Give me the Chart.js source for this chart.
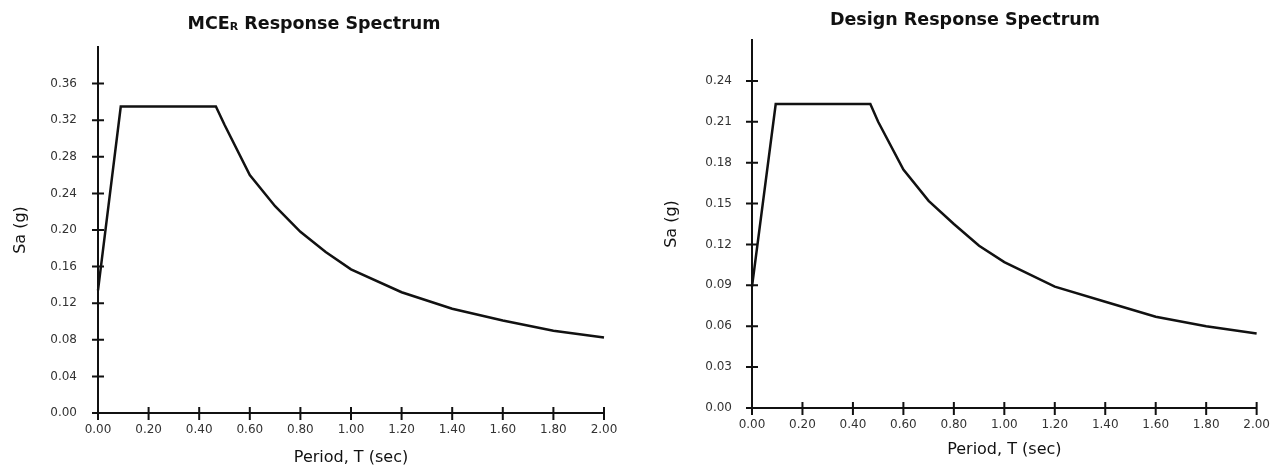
<!DOCTYPE html>
<html>
<head>
<meta charset="utf-8">
<script src="https://cdn.jsdelivr.net/npm/chart.js@4.4.1/dist/chart.umd.min.js"></script>
<style>
  body { margin: 0; background: #fff; }
  .panel { position: absolute; top: 0; width: 640px; height: 467px; }
</style>
</head>
<body>
<div class="panel" style="left:0"><canvas id="mceChart" width="640" height="467"></canvas></div>
<div class="panel" style="left:640px"><canvas id="designChart" width="640" height="467"></canvas></div>
<script>
  // values
  const periodsMce = [0, 0.09, 0.466, 0.5, 0.6, 0.7, 0.8, 0.9, 1.0, 1.2, 1.4, 1.6, 1.8, 2.0];
  const saMce = [0.134, 0.335, 0.335, 0.315, 0.260, 0.226, 0.198, 0.176, 0.157, 0.132, 0.114, 0.101, 0.090, 0.0825];
  const periodsDesign = [0, 0.094, 0.469, 0.5, 0.6, 0.7, 0.8, 0.9, 1.0, 1.2, 1.4, 1.6, 1.8, 2.0];
  const saDesign = [0.089, 0.223, 0.223, 0.210, 0.175, 0.152, 0.135, 0.119, 0.107, 0.089, 0.078, 0.067, 0.060, 0.0547];

  const periodTicks = [0, 0.2, 0.4, 0.6, 0.8, 1.0, 1.2, 1.4, 1.6, 1.8, 2.0];
  const mceTicks = [0, 0.04, 0.08, 0.12, 0.16, 0.20, 0.24, 0.28, 0.32, 0.36];
  const designTicks = [0, 0.03, 0.06, 0.09, 0.12, 0.15, 0.18, 0.21, 0.24];

  const font = '"DejaVu Sans", sans-serif';
  const ink = '#111';

  // tick marks that cross the axis lines
  const crossTicks = {
    id: 'crossTicks',
    afterDraw(chart) {
      const { ctx, scales: { x, y } } = chart;
      ctx.save();
      ctx.strokeStyle = ink;
      ctx.lineWidth = 2;
      ctx.beginPath();
      x.ticks.forEach(t => {
        const px = x.getPixelForValue(t.value);
        ctx.moveTo(px, x.top - 6);
        ctx.lineTo(px, x.top + 7);
      });
      y.ticks.forEach(t => {
        const py = y.getPixelForValue(t.value);
        ctx.moveTo(y.right - 6, py);
        ctx.lineTo(y.right + 6, py);
      });
      ctx.stroke();
      ctx.restore();
    }
  };

  // title with optional subscript pieces
  const panelTitle = {
    id: 'panelTitle',
    afterDraw(chart, args, opts) {
      const ctx = chart.ctx;
      const big = 'bold 17.5px ' + font, small = 'bold 11px ' + font;
      ctx.save();
      ctx.fillStyle = ink;
      ctx.textBaseline = 'middle';
      let w = 0;
      opts.parts.forEach(p => { ctx.font = p.sub ? small : big; w += ctx.measureText(p.text).width; });
      let x = opts.x - w / 2;
      opts.parts.forEach(p => {
        ctx.font = p.sub ? small : big;
        ctx.fillText(p.text, x, opts.y + (p.sub ? 3 : 0));
        x += ctx.measureText(p.text).width;
      });
      ctx.restore();
    }
  };

  function makeChart(id, periods, sa, yTicks, yMax, cfg) {
    return new Chart(document.getElementById(id), {
      type: 'line',
      data: {
        datasets: [{
          data: periods.map((t, i) => ({ x: t, y: sa[i] })),
          borderColor: ink,
          borderWidth: 2.5,
          pointRadius: 0,
          tension: 0,
          fill: false,
          clip: false
        }]
      },
      options: {
        responsive: false,
        animation: false,
        layout: { padding: { left: 0, right: cfg.right, top: cfg.top, bottom: 0 } },
        plugins: {
          legend: { display: false },
          tooltip: { enabled: false },
          panelTitle: { parts: cfg.title, x: cfg.titleX, y: cfg.titleY }
        },
        scales: {
          x: {
            type: 'linear', min: 0, max: 2,
            afterBuildTicks: s => { s.ticks = periodTicks.map(v => ({ value: v })); },
            afterFit: s => { s.height = cfg.xHeight; },
            grid: { display: false, drawTicks: false },
            border: { color: ink, width: 2 },
            ticks: { padding: 10, color: '#333', font: { family: font, size: 12 }, maxRotation: 0,
                     callback: v => v.toFixed(2) },
            title: { display: true, text: 'Period, T (sec)', color: ink,
                     font: { family: font, size: 16 }, padding: { top: 0, bottom: cfg.xTitlePad } }
          },
          y: {
            type: 'linear', min: 0, max: yMax,
            afterBuildTicks: s => { s.ticks = yTicks.map(v => ({ value: v })); },
            afterFit: s => { s.width = cfg.yWidth; },
            grid: { display: false, drawTicks: false },
            border: { color: ink, width: 2 },
            ticks: { padding: cfg.yPad, color: '#333', font: { family: font, size: 12 },
                     callback: v => v.toFixed(2) },
            title: { display: true, text: 'Sa (g)', color: ink,
                     font: { family: font, size: 16 }, padding: { top: cfg.yTitlePad, bottom: 0 } }
          }
        }
      },
      plugins: [crossTicks, panelTitle]
    });
  }

  makeChart('mceChart', periodsMce, saMce, mceTicks, 0.40, {
    right: 36, top: 47, xHeight: 54, yWidth: 98, yPad: 21, xTitlePad: 0, yTitlePad: 11,
    title: [{ text: 'MCE' }, { text: 'R', sub: true }, { text: ' Response Spectrum' }],
    titleX: 314, titleY: 24
  });

  makeChart('designChart', periodsDesign, saDesign, designTicks, 0.27, {
    right: 22, top: 40, xHeight: 59, yWidth: 112, yPad: 20, xTitlePad: 8, yTitlePad: 22,
    title: [{ text: 'Design Response Spectrum' }],
    titleX: 325, titleY: 20
  });
</script>
</body>
</html>
